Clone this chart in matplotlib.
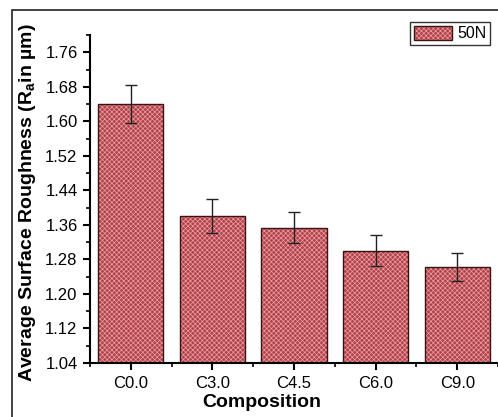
import numpy as np
import matplotlib
matplotlib.use('Agg')
import matplotlib.pyplot as plt
from matplotlib.patches import Rectangle, Patch
from matplotlib.ticker import MultipleLocator

plt.rcParams['font.family'] = ['Liberation Sans', 'DejaVu Sans']
plt.rcParams['hatch.linewidth'] = 0.5

# data
compositions = ['C0.0', 'C3.0', 'C4.5', 'C6.0', 'C9.0']
roughness = [1.640, 1.381, 1.353, 1.300, 1.263]
roughness_err = [0.045, 0.040, 0.036, 0.036, 0.032]
series_name = '50N'

bar_color = '#b2414a'
dot_color = '#eaa0a4'
edge_color = '#3a1414'

fig = plt.figure(figsize=(4.98, 4.17), dpi=100)
ax = fig.add_axes([90/498, 1-363/417, 1-90/498, (363-35)/417])

x = np.arange(len(compositions))
# hatched fill first, then the dark outline on top
ax.bar(x, roughness, width=0.8, bottom=0, color=bar_color, hatch='xxxxxxx',
       edgecolor=dot_color, linewidth=0, zorder=2)
ax.bar(x, roughness, width=0.8, bottom=0, fill=False, edgecolor=edge_color,
       linewidth=1.0, zorder=3)
ax.errorbar(x, roughness, yerr=roughness_err, fmt='none', ecolor='#222222',
            elinewidth=1.0, capsize=4, capthick=1.0, zorder=4)

ax.set_ylim(1.04, 1.80)
ax.set_xlim(-0.5, 4.5)
ax.yaxis.set_minor_locator(MultipleLocator(0.04))
yt = np.arange(1.04, 1.77, 0.08)
ax.set_yticks(yt)
ax.set_yticklabels(['%.2f' % v for v in yt])
ax.set_xticks(x)
ax.set_xticklabels(compositions)
ax.set_xticks(np.arange(-0.5, 4.6, 1.0), minor=True)

for s in ['top', 'right']:
    ax.spines[s].set_visible(False)
for s in ['left', 'bottom']:
    ax.spines[s].set_linewidth(1.5)
ax.tick_params(axis='both', which='major', direction='out', length=5, width=1.5,
               labelsize=12, colors='black', pad=4)
ax.tick_params(axis='both', which='minor', direction='out', length=3, width=1.2)

ax.set_xlabel('Composition', fontsize=14, fontweight='bold')
ax.xaxis.set_label_coords(0.42, -0.095)
ax.set_ylabel('Average Surface Roughness (R$_\\mathregular{a}$in µm)', fontsize=14,
              fontweight='bold')
ax.yaxis.set_label_coords(-0.128, 0.488)

leg_fill = Patch(facecolor=bar_color, hatch='xxxxxxx', edgecolor=dot_color, linewidth=0)
leg_edge = Patch(fill=False, edgecolor=edge_color, linewidth=1.0)
leg = ax.legend([(leg_fill, leg_edge)], [series_name], loc='upper right', fontsize=11.5,
                frameon=True, fancybox=False, edgecolor='black', handlelength=2.4,
                handleheight=1.0, borderpad=0.25, handletextpad=0.3,
                bbox_to_anchor=(1.0, 1.065))
leg.get_frame().set_linewidth(1.0)

# outer frame of the figure
fig.patches.append(Rectangle((12/498, -0.1), 1.0, 1.1 - 10/417, fill=False,
                             edgecolor='#222222', linewidth=1.2,
                             transform=fig.transFigure, figure=fig))

fig.savefig('out.png', dpi=100)
